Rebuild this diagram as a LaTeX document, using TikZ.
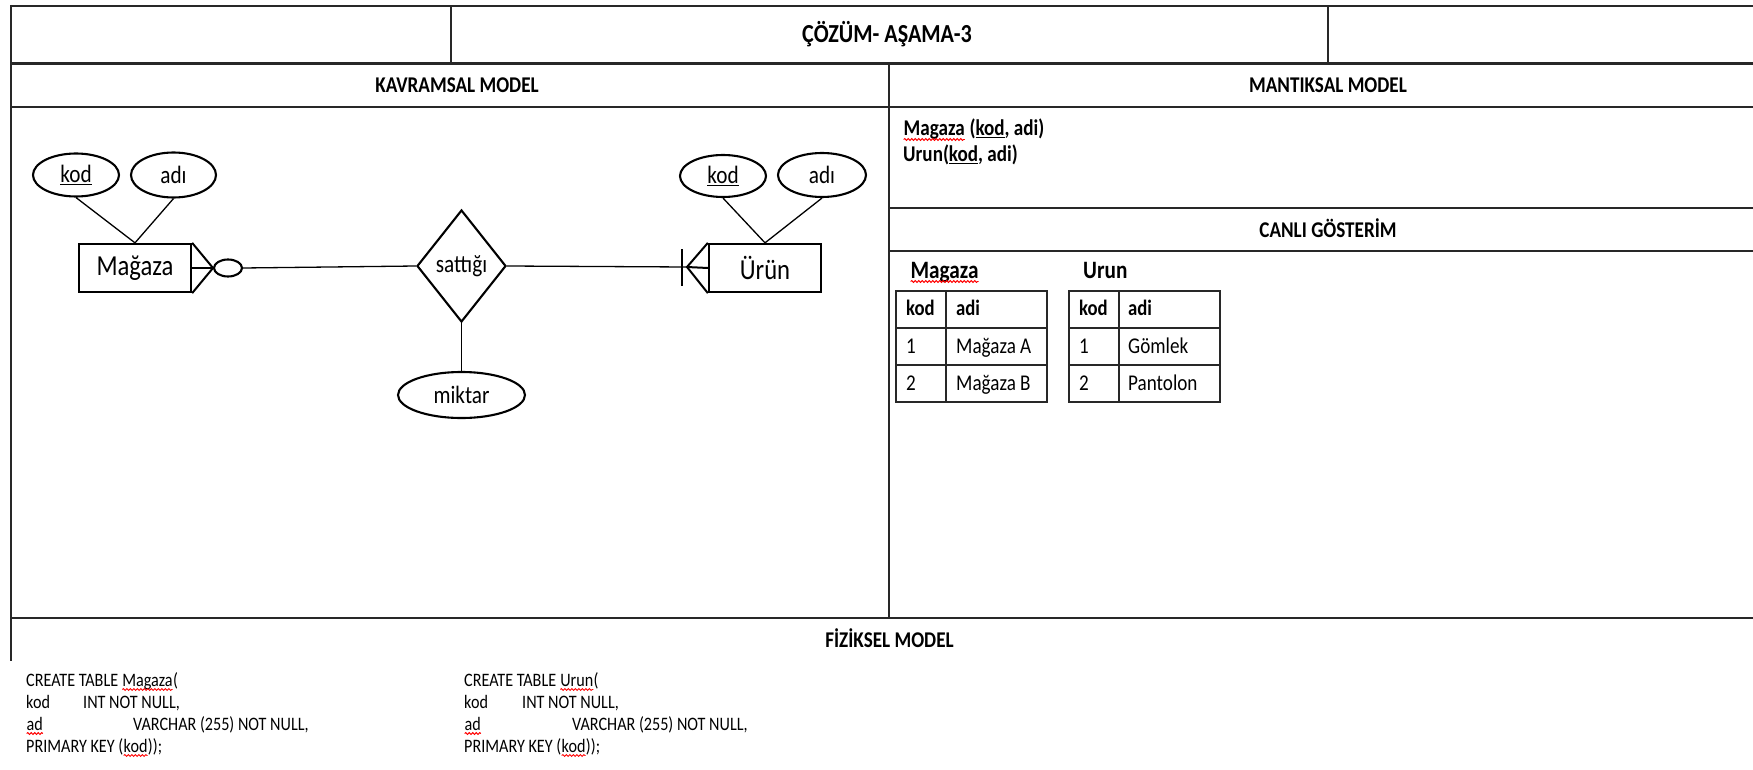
\documentclass[tikz,border=0pt]{standalone}
\usepackage{fontspec}
\setmainfont{Carlito}[FakeStretch=0.85]
\usetikzlibrary{shapes.geometric,calc,decorations.pathmorphing}
\newcommand\redwave[1]{\tikz[baseline=(wv.base)]{\node[inner sep=0pt,outer sep=0pt,draw=none] (wv) {#1};\draw[red,line width=0.9pt,decorate,decoration={snake,amplitude=0.9pt,segment length=3.5pt}] ([yshift=-3.5pt]wv.base west) -- ([yshift=-3.5pt]wv.base east);}}
\definecolor{frm}{RGB}{40,40,40}
\tikzset{
  hline/.style={draw=frm,line width=2.6pt},
  vline/.style={draw=frm,line width=1.8pt},
  hdr/.style={anchor=base,inner sep=0pt,font=\fontsize{22.5}{27}\selectfont\bfseries},
  mtext/.style={anchor=base west,inner sep=0pt,font=\fontsize{22.5}{27}\selectfont\bfseries},
  ent/.style={draw,rectangle,line width=2.3pt,minimum width=112pt,minimum height=48pt,inner sep=0pt,font=\fontsize{29}{34}\selectfont},
  attr/.style={draw,ellipse,line width=2.1pt,inner sep=0pt,font=\fontsize{25}{30}\selectfont},
  relbox/.style={draw,diamond,line width=2.1pt,minimum width=89pt,minimum height=112pt,inner sep=0pt,font=\fontsize{25}{30}\selectfont},
  conn/.style={line width=1.3pt},
  foot/.style={line width=2pt,line join=miter},
  grid/.style={draw=frm,line width=2.3pt},
  cell/.style={anchor=base west,inner sep=0pt,font=\fontsize{22.5}{27}\selectfont},
  cellb/.style={anchor=base west,inner sep=0pt,font=\fontsize{22}{27}\selectfont\bfseries},
  tlabel/.style={anchor=base west,inner sep=0pt,font=\fontsize{25}{30}\selectfont\bfseries},
  codetxt/.style={anchor=base west,inner sep=0pt,font=\fontsize{19}{22}\selectfont}
}
\begin{document}
\begin{tikzpicture}[x=1pt,y=-1pt]
\useasboundingbox (0,0) rectangle (1753,770);
% frame
\draw[hline] (11,6) -- (1753,6);
\draw[hline] (11,63.5) -- (1753,63.5);
\draw[hline] (11,107) -- (1753,107);
\draw[hline] (889,208) -- (1753,208);
\draw[hline] (889,251) -- (1753,251);
\draw[hline] (11,618) -- (1753,618);
\draw[vline] (11,5) -- (11,661);
\draw[vline] (451,6) -- (451,63.5);
\draw[vline] (1328,6) -- (1328,63.5);
\draw[vline] (889,63.5) -- (889,618);
% headings
\node[hdr,font=\fontsize{26}{31}\selectfont\bfseries] (title) at (887,43) {ÇÖZÜM- AŞAMA-3};
\node[hdr] (kav) at (457,92.5) {KAVRAMSAL MODEL};
\node[hdr] (man) at (1328,92.5) {MANTIKSAL MODEL};
\node[hdr] (canli) at (1328,237) {CANLI GÖSTERİM};
\node[hdr] (fiz) at (889.5,647) {FİZİKSEL MODEL};
% mantiksal model
\node[mtext] (m1) at (903,136) {\redwave{Magaza} (\underline{kod}, adi)};
\node[mtext] (m2) at (903,162) {Urun(\underline{kod}, adi)};
% ER diagram
\node[attr,minimum width=86pt,minimum height=43pt] (k1) at (76,175) {\underline{kod}};
\node[attr,minimum width=85pt,minimum height=45pt] (a1) at (173.5,175) {adı};
\node[ent] (e1) at (135,268) {Mağaza};
\node[attr,minimum width=28pt,minimum height=17pt] (o1) at (228,268) {};
\node[relbox] (r) at (461.5,266) {sattığı};
\node[attr,minimum width=127pt,minimum height=46pt] (mk) at (461.5,395) {miktar};
\node[ent] (e2) at (765,268) {Ürün};
\node[attr,minimum width=86pt,minimum height=42pt] (k2) at (723,176) {\underline{kod}};
\node[attr,minimum width=88pt,minimum height=44pt] (a2) at (822,175) {adı};
\draw[conn] (k1.south) -- (e1.north);
\draw[conn] (a1.south) -- (e1.north);
\draw[conn] (k2.south) -- (e2.north);
\draw[conn] (a2.south) -- (e2.north);
\draw[conn] (r.south) -- (mk.north);
\draw[conn] (o1.east) -- (r.west);
\coordinate (t1) at (213,268);
\draw[foot] (e1.north east) -- (t1) -- (e1.south east);
\draw[foot] (e1.east) -- (t1);
\coordinate (t2) at (687,267);
\draw[conn] (r.east) -- (t2);
\draw[foot] (e2.north west) -- (t2) -- (e2.south west);
\draw[foot] (e2.west) -- (t2);
\draw[conn] ($(t2)+(-5,-18)$) -- ($(t2)+(-5,19)$);
% canli gosterim tables
\node[tlabel] (lab1) at (910,278) {\redwave{Magaza}};
\node[tlabel] (lab2) at (1083,278) {Urun};
\draw[grid] (896,291) rectangle (1047,402);
\draw[grid] (896,328) -- (1047,328) (896,365) -- (1047,365) (946,291) -- (946,402);
\draw[grid] (1069,291) rectangle (1220,402);
\draw[grid] (1069,328) -- (1220,328) (1069,365) -- (1220,365) (1119,291) -- (1119,402);
\node[cellb] (c11) at (906,315) {kod};
\node[cellb] (c12) at (956,315) {adi};
\node[cell] (c21) at (906,353) {1};
\node[cell] (c22) at (956,353) {Mağaza A};
\node[cell] (c31) at (906,390) {2};
\node[cell] (c32) at (956,390) {Mağaza B};
\node[cellb] (d11) at (1079,315) {kod};
\node[cellb] (d12) at (1128,315) {adi};
\node[cell] (d21) at (1079,353) {1};
\node[cell] (d22) at (1128,353) {Gömlek};
\node[cell] (d31) at (1079,390) {2};
\node[cell] (d32) at (1128,390) {Pantolon};
% fiziksel model
\node[codetxt] (s1) at (26,686) {CREATE TABLE \redwave{Magaza}(};
\node[codetxt] (s2) at (26,708) {kod};
\node[codetxt] (s3) at (83,708) {INT NOT NULL,};
\node[codetxt] (s4) at (26,730) {\redwave{ad}};
\node[codetxt] (s5) at (133,730) {VARCHAR (255) NOT NULL,};
\node[codetxt] (s6) at (26,752) {PRIMARY KEY (\redwave{kod}));};
\node[codetxt] (u1) at (464,686) {CREATE TABLE \redwave{Urun}(};
\node[codetxt] (u2) at (464,708) {kod};
\node[codetxt] (u3) at (522,708) {INT NOT NULL,};
\node[codetxt] (u4) at (464,730) {\redwave{ad}};
\node[codetxt] (u5) at (572,730) {VARCHAR (255) NOT NULL,};
\node[codetxt] (u6) at (464,752) {PRIMARY KEY (\redwave{kod}));};
\end{tikzpicture}
\end{document}
